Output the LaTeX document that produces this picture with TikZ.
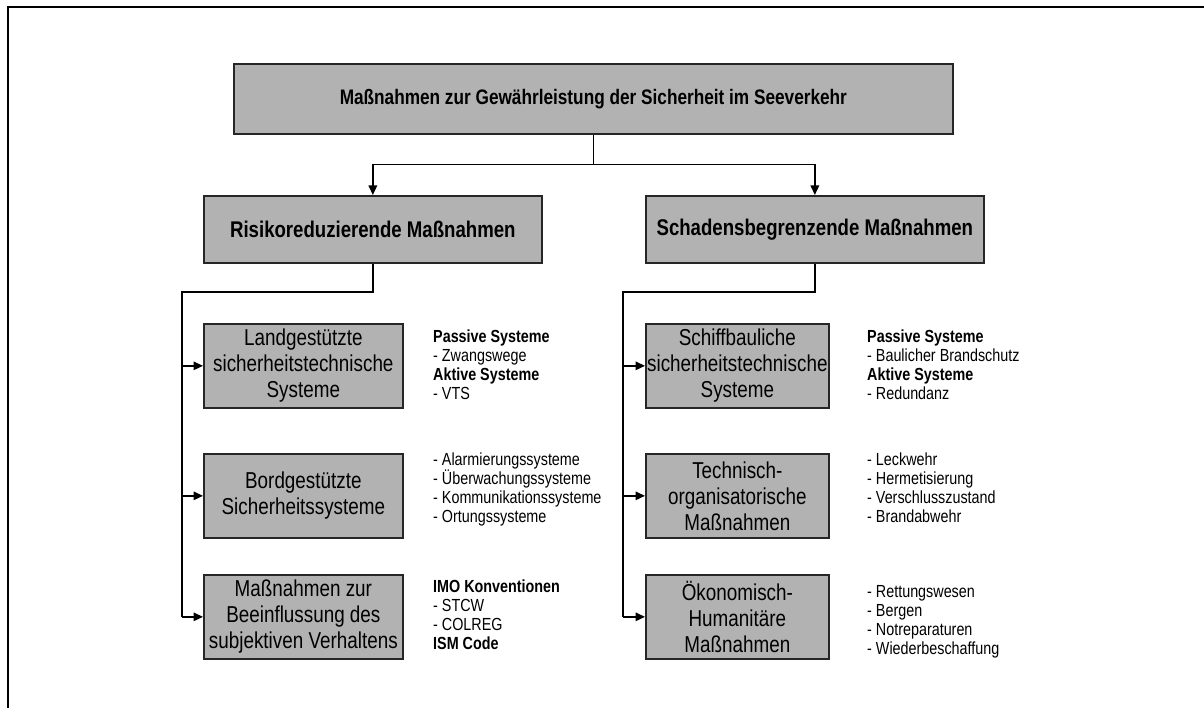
\documentclass[tikz,border=0pt]{standalone}
\usepackage{fontspec}
\setmainfont{Liberation Sans}[FakeStretch=0.82]
\usetikzlibrary{arrows.meta}
\definecolor{boxgray}{HTML}{B2B2B2}
\definecolor{edgegray}{HTML}{262626}
\begin{document}
\begin{tikzpicture}[x=1pt,y=-1pt,
  box/.style={draw=edgegray, line width=1.7pt, fill=boxgray, inner sep=0pt,
    align=center, anchor=north west, text=black},
  topbox/.style={box, minimum width=719pt, minimum height=70pt,
    font=\bfseries\fontsize{21}{24}\selectfont},
  midbox/.style={box, minimum width=338pt, minimum height=67pt,
    font=\bfseries\fontsize{22.7}{26}\selectfont},
  leftbox/.style={box, minimum width=199pt, minimum height=84pt,
    font=\fontsize{23}{26}\selectfont},
  rightbox/.style={box, minimum width=183pt, minimum height=84pt,
    font=\fontsize{23}{26}\selectfont},
  list/.style={anchor=north west, inner sep=0pt, align=left,
    font=\fontsize{17.5}{19}\selectfont},
  link/.style={line width=1.5pt},
  arrow/.style={link, -{Triangle[length=9.5pt,width=8.5pt]}}]

\useasboundingbox (0,0) rectangle (1204,708);
\fill[white] (0,0) rectangle (1204,708);

% outer frame (only top and left edges fall inside the page)
\draw[line width=2pt] (8,712) -- (8,7) -- (1210,7);

% top level
\node[topbox] (top) at (233,63) {Maßnahmen zur Gewährleistung der Sicherheit im Seeverkehr};

% second level
\node[midbox] (risk) at (203,195) {Risikoreduzierende Maßnahmen};
\node[midbox] (damage) at (645,195) {Schadensbegrenzende Maßnahmen};

% third level, left branch
\node[leftbox] (l1) at (203,323) {Landgestützte\\sicherheitstechnische\\Systeme};
\node[leftbox] (l2) at (203,453) {Bordgestützte\\Sicherheitssysteme};
\node[leftbox] (l3) at (203,574) {Maßnahmen zur\\Beeinflussung des\\subjektiven Verhaltens};

% third level, right branch
\node[rightbox] (r1) at (645,323) {Schiffbauliche\\sicherheitstechnische\\Systeme};
\node[rightbox] (r2) at (645,453) {Technisch-\\organisatorische\\Maßnahmen};
\node[rightbox] (r3) at (645,574) {Ökonomisch-\\Humanitäre\\Maßnahmen};

% item lists beside the boxes
\node[list] (t1) at (433,330) {\textbf{Passive Systeme}\\- Zwangswege\\\textbf{Aktive Systeme}\\- VTS};
\node[list] (t2) at (433,453) {- Alarmierungssysteme\\- Überwachungssysteme\\- Kommunikationssysteme\\- Ortungssysteme};
\node[list] (t3) at (433,580) {\textbf{IMO Konventionen}\\- STCW\\- COLREG\\\textbf{ISM Code}};
\node[list] (u1) at (867,330) {\textbf{Passive Systeme}\\- Baulicher Brandschutz\\\textbf{Aktive Systeme}\\- Redundanz};
\node[list] (u2) at (867,453) {- Leckwehr\\- Hermetisierung\\- Verschlusszustand\\- Brandabwehr};
\node[list] (u3) at (867,585) {- Rettungswesen\\- Bergen\\- Notreparaturen\\- Wiederbeschaffung};

% connectors from the top box
\path (top.south) ++(0,30) coordinate (split);
\draw[link] (top.south) -- (split);
\draw[arrow] (split) -| (risk.north);
\draw[arrow] (split) -| (damage.north);

% left branch bus
\coordinate (lbus) at (182,292);
\draw[link] (risk.south) |- (lbus) -- (lbus |- l3.west);
\draw[arrow] (lbus |- l1.west) -- (l1.west);
\draw[arrow] (lbus |- l2.west) -- (l2.west);
\draw[arrow] (lbus |- l3.west) -- (l3.west);

% right branch bus
\coordinate (rbus) at (623,292);
\draw[link] (damage.south) |- (rbus) -- (rbus |- r3.west);
\draw[arrow] (rbus |- r1.west) -- (r1.west);
\draw[arrow] (rbus |- r2.west) -- (r2.west);
\draw[arrow] (rbus |- r3.west) -- (r3.west);
\end{tikzpicture}
\end{document}
